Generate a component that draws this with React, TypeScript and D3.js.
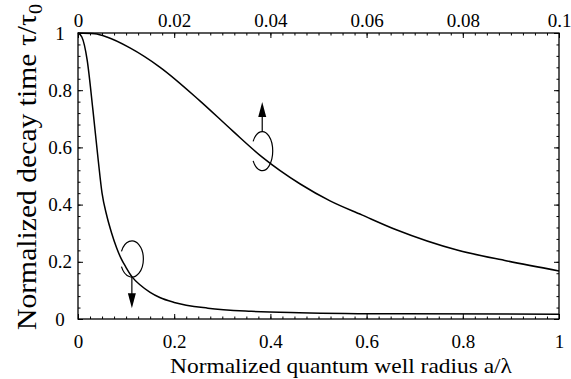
import React, { useEffect, useRef } from 'react';
import * as d3 from 'd3';

const W = 571;
const H = 379;
const margin = { top: 33, right: 12, bottom: 60, left: 78 };

// upper curve, read against the top axis (0 .. 0.1)
const upperX = [0, 0.0035, 0.006, 0.0108, 0.017, 0.0254, 0.0322, 0.0383, 0.0462, 0.0524, 0.059, 0.0663, 0.0788, 0.0892, 0.1];
const upperY = [1, 0.997, 0.986, 0.948, 0.881, 0.762, 0.657, 0.566, 0.472, 0.413, 0.364, 0.311, 0.241, 0.203, 0.168];

// lower curve, read against the bottom axis (0 .. 1)
const lowerX = [0, 0.008, 0.019, 0.031, 0.042, 0.05, 0.06, 0.07, 0.08, 0.09, 0.1, 0.112, 0.13, 0.15, 0.17, 0.2, 0.27, 0.36, 0.46, 0.67, 1];
const lowerY = [1, 0.986, 0.906, 0.731, 0.556, 0.44, 0.36, 0.3, 0.25, 0.21, 0.18, 0.148, 0.118, 0.093, 0.075, 0.058, 0.038, 0.027, 0.022, 0.018, 0.017];

const bottomTicks = [0, 0.2, 0.4, 0.6, 0.8, 1];
const topTicks = [0, 0.02, 0.04, 0.06, 0.08, 0.1];
const leftTicks = [0, 0.2, 0.4, 0.6, 0.8, 1];

// loop + arrow markers: centre of loop (data units) and arrow tip y
const upperMark = { x: 0.0383, y: 0.587, tip: 0.759 };
const lowerMark = { x: 0.112, y: 0.21, tip: 0.038 };

const font = 'Liberation Serif, Times New Roman, serif';

export default function App() {
  const ref = useRef<SVGGElement>(null);

  const iw = W - margin.left - margin.right;
  const ih = H - margin.top - margin.bottom;

  const xb = d3.scaleLinear().domain([0, 1]).range([0, iw]);
  const xt = d3.scaleLinear().domain([0, 0.1]).range([0, iw]);
  const y = d3.scaleLinear().domain([0, 1]).range([ih, 0]);

  useEffect(() => {
    const g = d3.select(ref.current);
    g.selectAll('*').remove();

    const minor = (lo: number, hi: number, step: number) =>
      d3.range(Math.round((hi - lo) / step) + 1).map(i => lo + i * step);

    const style = (sel: any) => {
      sel.attr('font-family', font).attr('font-size', 19);
      sel.select('.domain').remove();
      sel.selectAll('line').attr('stroke', '#000').attr('stroke-width', 1);
      sel.selectAll('text').attr('fill', '#000').attr('font-family', font).attr('font-size', 19);
    };

    // bottom
    g.append('g').attr('transform', `translate(0,${ih})`)
      .call(d3.axisBottom(xb).tickValues(bottomTicks).tickSize(-5).tickPadding(16).tickFormat(d3.format('~g') as any))
      .call(style);
    g.append('g').attr('transform', `translate(0,${ih})`)
      .call(d3.axisBottom(xb).tickValues(minor(0, 1, 0.025)).tickSize(-2.5).tickFormat(() => ''))
      .call(style);

    // top
    g.append('g')
      .call(d3.axisTop(xt).tickValues(topTicks).tickSize(-5).tickPadding(6).tickFormat(d3.format('~g') as any))
      .call(style);
    g.append('g')
      .call(d3.axisTop(xt).tickValues(minor(0, 0.1, 0.0025)).tickSize(-2.5).tickFormat(() => ''))
      .call(style);

    // left
    const la = g.append('g')
      .call(d3.axisLeft(y).tickValues(leftTicks).tickSize(-5).tickPadding(18).tickFormat(d3.format('~g') as any))
      .call(style);
    la.selectAll('text').attr('text-anchor', 'middle');
    g.append('g')
      .call(d3.axisLeft(y).tickValues(minor(0, 1, 0.04)).tickSize(-2.5).tickFormat(() => ''))
      .call(style);

    // right
    g.append('g').attr('transform', `translate(${iw},0)`)
      .call(d3.axisRight(y).tickValues(leftTicks).tickSize(-5).tickFormat(() => ''))
      .call(style);
    g.append('g').attr('transform', `translate(${iw},0)`)
      .call(d3.axisRight(y).tickValues(minor(0, 1, 0.04)).tickSize(-2.5).tickFormat(() => ''))
      .call(style);
  }, []);

  const upperLine = d3.line<number>()
    .x((d, i) => xt(upperX[i]))
    .y(d => y(d))
    .curve(d3.curveMonotoneX);
  const lowerLine = d3.line<number>()
    .x((d, i) => xb(lowerX[i]))
    .y(d => y(d))
    .curve(d3.curveMonotoneX);

  // open loop with a gap on its left side
  const loop = (cx: number, cy: number, rx: number, ry: number, a0: number, a1: number) => {
    const p = (a: number) => [cx + rx * Math.cos((a * Math.PI) / 180), cy + ry * Math.sin((a * Math.PI) / 180)];
    const [x0, y0] = p(a0);
    const [x1, y1] = p(a1);
    return `M${x0},${y0}A${rx},${ry} 0 1 1 ${x1},${y1}`;
  };

  const ux = xt(upperMark.x), uy = y(upperMark.y), uTip = y(upperMark.tip);
  const lx = xb(lowerMark.x), ly = y(lowerMark.y), lTip = y(lowerMark.tip);
  const uRy = 19.5, lRy = 18;

  return (
    <svg width={W} height={H} fontFamily={font} style={{ position: 'absolute', left: 0, top: 0, background: '#fff' }}>
      <g transform={`translate(${margin.left},${margin.top})`}>
        <rect x={0} y={0} width={iw} height={ih} fill="none" stroke="#000" strokeWidth={1.3} />
        <g ref={ref} />
        <path d={upperLine(upperY) || ''} fill="none" stroke="#000" strokeWidth={1.5} />
        <path d={lowerLine(lowerY) || ''} fill="none" stroke="#000" strokeWidth={1.5} />

        {/* upper marker: loop, arrow pointing up */}
        <path d={loop(ux, uy, 10.5, uRy, 210, 150)} fill="none" stroke="#000" strokeWidth={1.2} />
        <line x1={ux} y1={uy - uRy} x2={ux} y2={uTip + 12} stroke="#000" strokeWidth={1.2} />
        <path d={`M${ux},${uTip}L${ux - 4},${uTip + 15}L${ux + 4},${uTip + 15}Z`} fill="#000" />

        {/* lower marker: loop, arrow pointing down */}
        <path d={loop(lx, ly, 11.5, lRy, 205, 155)} fill="none" stroke="#000" strokeWidth={1.2} />
        <line x1={lx} y1={ly + lRy} x2={lx} y2={lTip - 12} stroke="#000" strokeWidth={1.2} />
        <path d={`M${lx},${lTip}L${lx - 4},${lTip - 15}L${lx + 4},${lTip - 15}Z`} fill="#000" />
      </g>

      <text x={170} y={373} fontFamily={font} fontSize={22} textLength={342} lengthAdjust="spacingAndGlyphs" fill="#000">
        Normalized quantum well radius a/λ
      </text>
      <text transform="translate(36,330) rotate(-90)" fontFamily={font} fontSize={28} textLength={326} lengthAdjust="spacingAndGlyphs" fill="#000">
        Normalized decay time τ/τ<tspan fontSize={19} dy={6}>0</tspan>
      </text>
    </svg>
  );
}
